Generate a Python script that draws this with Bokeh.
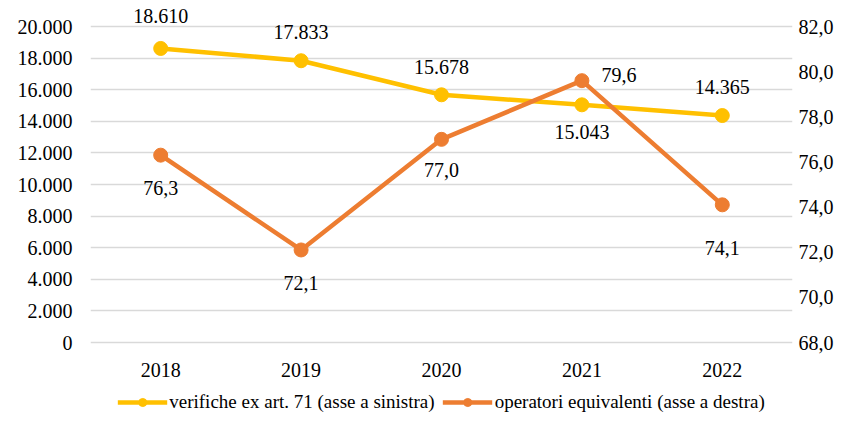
from bokeh.plotting import figure
from bokeh.models import (Range1d, LinearAxis, FixedTicker, ColumnDataSource,
                          Legend, LegendItem, FactorRange)
from bokeh.core.properties import value
from bokeh.embed import file_html
from bokeh.resources import INLINE

years = ["2018", "2019", "2020", "2021", "2022"]
verifiche = [18610, 17833, 15678, 15043, 14365]
operatori = [76.3, 72.1, 77.0, 79.6, 74.1]
verifiche_labels = ["18.610", "17.833", "15.678", "15.043", "14.365"]
operatori_labels = ["76,3", "72,1", "77,0", "79,6", "74,1"]
left_ticks = list(range(0, 20001, 2000))
left_tick_labels = ["0", "2.000", "4.000", "6.000", "8.000", "10.000",
                    "12.000", "14.000", "16.000", "18.000", "20.000"]
right_ticks = [68, 70, 72, 74, 76, 78, 80, 82]
right_tick_labels = ["68,0", "70,0", "72,0", "74,0", "76,0", "78,0", "80,0", "82,0"]

FONT = "Liberation Serif"
FS = "20px"
YEL = "#FFC000"
ORA = "#ED7D31"

# frame geometry: headroom above the 20.000 gridline and room below 0 for
# the category labels and legend, so nothing is clipped by the frame
FIG_H = 414
TOP = 8          # frame top (px)
TOP_PAD = 18     # px above top gridline inside the frame
AXIS_H = 316     # px from 0 to 20.000
BOT_PAD = FIG_H - TOP - TOP_PAD - AXIS_H
ft, fb = TOP_PAD / AXIS_H, BOT_PAD / AXIS_H
L0, L1 = 0, 20000
R0, R1 = 68, 82

p = figure(width=836, height=FIG_H, x_range=FactorRange(*years, range_padding=0),
           y_range=Range1d(L0 - (L1 - L0) * fb, L1 + (L1 - L0) * ft),
           output_backend="svg", toolbar_location=None,
           min_border_left=90, min_border_right=40, min_border_top=TOP,
           min_border_bottom=0)
p.outline_line_color = None
p.extra_y_ranges = {"right": Range1d(R0 - (R1 - R0) * fb, R1 + (R1 - R0) * ft)}

# axes
p.yaxis.ticker = FixedTicker(ticks=left_ticks)
p.yaxis.major_label_overrides = {t: l for t, l in zip(left_ticks, left_tick_labels)}
raxis = LinearAxis(y_range_name="right", ticker=FixedTicker(ticks=right_ticks))
raxis.major_label_overrides = {t: l for t, l in zip(right_ticks, right_tick_labels)}
p.add_layout(raxis, "right")
p.xaxis.fixed_location = L0
for ax in [p.yaxis[0], raxis, p.xaxis[0]]:
    ax.axis_line_color = None
    ax.major_tick_line_color = None
    ax.minor_tick_line_color = None
    ax.major_tick_out = 0
    ax.major_tick_in = 0
    ax.major_label_text_font = FONT
    ax.major_label_text_font_size = FS
    ax.major_label_text_color = "#000000"
p.yaxis[0].major_label_standoff = 18
raxis.major_label_standoff = 6
p.xaxis.major_label_standoff = 20
p.xgrid.grid_line_color = None
p.ygrid.grid_line_color = "#d9d9d9"
p.ygrid.grid_line_width = 1.5

src_v = ColumnDataSource(dict(x=years, y=verifiche, lab=verifiche_labels,
                              dx=[0, 0, 0, 0, 0], dy=[-32, -29, -28, 27, -29]))
src_o = ColumnDataSource(dict(x=years, y=operatori, lab=operatori_labels,
                              dx=[0, 0, 0, 37, 0], dy=[33, 33, 31, -6, 43]))

lv = p.line("x", "y", source=src_v, line_color=YEL, line_width=4.5)
sv = p.scatter("x", "y", source=src_v, size=14, fill_color=YEL, line_color=YEL)
lo = p.line("x", "y", source=src_o, line_color=ORA, line_width=4.5, y_range_name="right")
so = p.scatter("x", "y", source=src_o, size=14, fill_color=ORA, line_color=ORA,
               y_range_name="right")

p.text("x", "y", text="lab", source=src_v, x_offset="dx", y_offset="dy",
       text_font=value(FONT), text_font_size=FS, text_color="#000000",
       text_align="center", text_baseline="middle")
p.text("x", "y", text="lab", source=src_o, x_offset="dx", y_offset="dy",
       text_font=value(FONT), text_font_size=FS, text_color="#000000",
       text_align="center", text_baseline="middle", y_range_name="right")

legend = Legend(items=[
    LegendItem(label="verifiche ex art. 71 (asse a sinistra)", renderers=[lv, sv]),
    LegendItem(label="operatori equivalenti (asse a destra)", renderers=[lo, so]),
], orientation="horizontal", location="bottom_center")
legend.label_text_font = FONT
legend.label_text_font_size = "19px"
legend.label_text_color = "#000000"
legend.border_line_color = None
legend.background_fill_alpha = 0
legend.glyph_width = 50
legend.glyph_height = 20
legend.label_standoff = 2
legend.spacing = 8
legend.padding = 0
legend.margin = 1
p.add_layout(legend)

open("out.html", "w").write(file_html(p, INLINE))
